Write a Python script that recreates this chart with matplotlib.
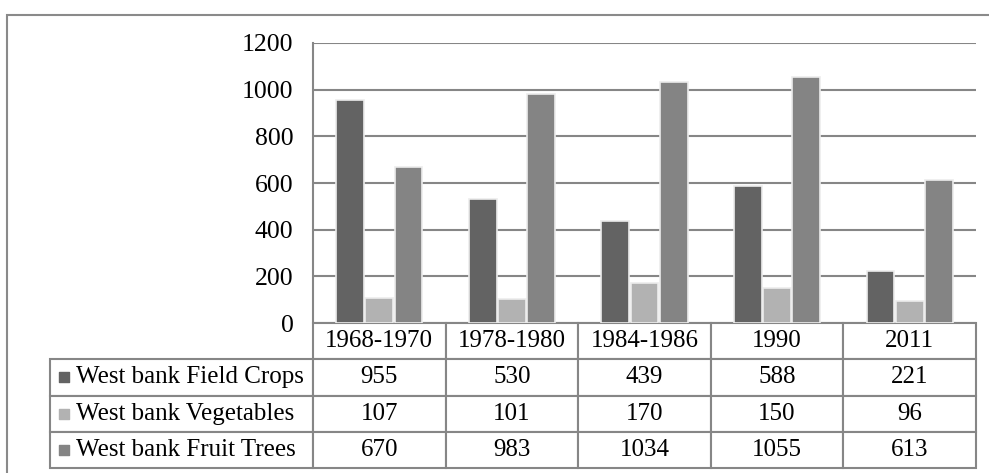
import matplotlib
matplotlib.use('Agg')
import matplotlib.pyplot as plt
import matplotlib.patches as patches
from matplotlib.table import Table
import numpy as np

plt.rcParams['font.family'] = ['Liberation Serif', 'DejaVu Serif']

periods = ['1968-1970', '1978-1980', '1984-1986', '1990', '2011']
series_names = ['West bank Field Crops', 'West bank Vegetables', 'West bank Fruit Trees']
field_crops = [955, 530, 439, 588, 221]
vegetables = [107, 101, 170, 150, 96]
fruit_trees = [670, 983, 1034, 1055, 613]
colors = ['#636363', '#b2b2b2', '#848484']

W, H = 989, 473
fig = plt.figure(figsize=(W / 100, H / 100), dpi=100)

# plot area in pixels
left, right, top, bottom = 313, 976, 43, 323
ax = fig.add_axes([left / W, (H - bottom) / H, (right - left) / W, (bottom - top) / H])

grid_color = '#868686'
x = np.arange(len(periods))
width = 0.21
offsets = [-0.22, 0.0, 0.22]
for vals, off, col in zip([field_crops, vegetables, fruit_trees], offsets, colors):
  ax.bar(x + off, vals, width, color=col, edgecolor='#ececec', linewidth=1.2, zorder=3)

ax.set_xlim(-0.5, len(periods) - 0.5)
ax.set_ylim(0, 1200)
ax.set_yticks(range(0, 1201, 200))
ax.tick_params(axis='y', length=0, pad=14, labelsize=18.5)
ax.set_xticks([])
ax.yaxis.grid(True, color=grid_color, linewidth=1.5, zorder=0)
for s in ['top', 'right', 'bottom']:
  ax.spines[s].set_visible(False)
ax.spines['left'].set_color(grid_color)
ax.spines['left'].set_linewidth(1.5)

# data table below the plot
pw = right - left
ph = bottom - top
tab_left, tab_bottom = 50, 468
label_w = left - tab_left
col_w = pw / len(periods)
bbox = [(tab_left - left) / pw, -(tab_bottom - bottom) / ph,
        (right - tab_left) / pw, (tab_bottom - bottom) / ph]
tb = Table(ax, bbox=bbox)
n_rows = len(series_names) + 1
rh = 1.0 / n_rows
widths = [label_w] + [col_w] * len(periods)
tot = sum(widths)
widths = [w / tot for w in widths]

header = tb.add_cell(0, 0, widths[0], rh, text='', loc='center')
header.visible_edges = 'open'
for j, p in enumerate(periods):
  tb.add_cell(0, j + 1, widths[j + 1], rh, text=p, loc='center', edgecolor=grid_color)
for i, (name, vals) in enumerate(zip(series_names, [field_crops, vegetables, fruit_trees])):
  tb.add_cell(i + 1, 0, widths[0], rh, text=name, loc='left', edgecolor=grid_color)
  for j, v in enumerate(vals):
    tb.add_cell(i + 1, j + 1, widths[j + 1], rh, text=str(v), loc='center', edgecolor=grid_color)
tb.auto_set_font_size(False)
tb.set_fontsize(18)
for cell in tb.get_celld().values():
  cell.set_linewidth(1.5)
ax.add_table(tb)

# legend keys inside the row label cells
for i, col in enumerate(colors):
  yc = bbox[1] + bbox[3] * (1 - (i + 1.5) / n_rows)
  ax.scatter([(64 - left) / pw], [yc], marker='s', s=52, color=col,
             transform=ax.transAxes, clip_on=False, zorder=5)

# chart area border
fig.patches.append(patches.Rectangle((7 / W, -0.05), 1.1, (H - 15) / H + 0.05,
                                     transform=fig.transFigure, fill=False,
                                     edgecolor='#8a8a8a', linewidth=1.5))

fig.savefig('out.png', dpi=100)
